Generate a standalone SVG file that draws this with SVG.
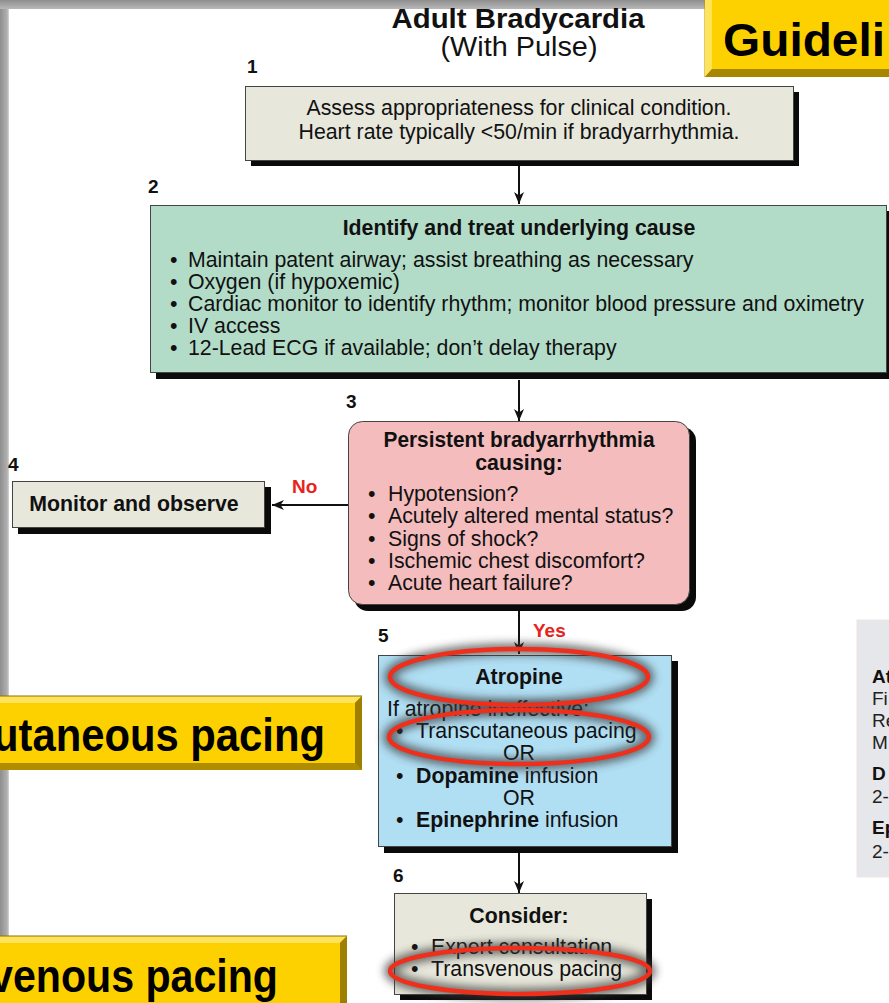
<svg xmlns="http://www.w3.org/2000/svg" width="889" height="1003" viewBox="0 0 889 1003">
<defs>
<style>
text{font-family:"Liberation Sans",Arial,sans-serif;fill:#111}
.t{font-size:21.3px}
.b{font-size:21.3px;font-weight:bold}
.n{font-size:19px;font-weight:bold}
.red{font-size:19px;font-weight:bold;fill:#e8231c}
.box{stroke:#444;stroke-width:1}
.sh{fill:#0a0a0a}
.ban{font-size:46px;font-weight:bold;fill:#000}
.conn{stroke:#111;stroke-width:2;fill:none;marker-end:url(#ah)}
.halo{fill:none;stroke:#3a3a3a;stroke-width:12;opacity:0.7;filter:url(#blur)}
.ring{fill:none;stroke:#ef2f1c;stroke-width:4.5}
.side{font-size:19px;fill:#222}
.sideb{font-size:19px;font-weight:bold;fill:#111}
</style>
<marker id="ah" viewBox="0 0 12 12" refX="12" refY="6" markerWidth="12" markerHeight="12" markerUnits="userSpaceOnUse" orient="auto">
<path d="M0,1 L12,6 L0,11 L3.5,6 Z" fill="#111"/>
</marker>
<filter id="blur" x="-20%" y="-60%" width="140%" height="220%"><feGaussianBlur stdDeviation="4"/></filter>
<clipPath id="panelClip"><rect x="850" y="600" width="39" height="300"/></clipPath>
<linearGradient id="gTop" x1="0" y1="0" x2="0" y2="1"><stop offset="0" stop-color="#8e8e8e"/><stop offset="1" stop-color="#b8b8b8"/></linearGradient>
<linearGradient id="gLeft" x1="0" y1="0" x2="1" y2="0"><stop offset="0" stop-color="#8e8e8e"/><stop offset="0.8" stop-color="#b0b0b0"/><stop offset="1" stop-color="#d8d8d8"/></linearGradient>
</defs>
<rect width="889" height="1003" fill="#ffffff"/>
<g id="frame">
<rect x="0" y="0" width="9" height="1003" fill="url(#gLeft)"/>
<rect x="0" y="0" width="705" height="9" fill="url(#gTop)"/>
</g>
<g id="title">
<text x="518" y="28" text-anchor="middle" style="font-size:27px;font-weight:bold" textLength="253" lengthAdjust="spacingAndGlyphs">Adult Bradycardia</text>
<text x="519" y="56" text-anchor="middle" style="font-size:27px" textLength="157" lengthAdjust="spacingAndGlyphs">(With Pulse)</text>
</g>
<g id="right-panel" clip-path="url(#panelClip)">
<rect x="857" y="620" width="40" height="257" fill="#e5e7ea" stroke="#f1e4e4" stroke-width="1"/>
<text class="sideb" x="872" y="683">At</text>
<text class="side" x="872" y="705">Fi</text>
<text class="side" x="872" y="727">Re</text>
<text class="side" x="872" y="749">M</text>
<text class="sideb" x="872" y="780">D</text>
<text class="side" x="872" y="803">2-</text>
<text class="sideb" x="872" y="834">Ep</text>
<text class="side" x="872" y="858">2-</text>
</g>
<g id="connectors">
<line class="conn" x1="519" y1="166" x2="519" y2="204"/>
<line class="conn" x1="519" y1="380" x2="519" y2="421"/>
<line class="conn" x1="349" y1="505" x2="272" y2="505"/>
<line class="conn" x1="519" y1="611" x2="519" y2="654"/>
<line class="conn" x1="519" y1="852" x2="519" y2="893"/>
<text class="red" x="292" y="493">No</text>
<text class="red" x="533" y="637">Yes</text>
</g>
<g id="node1">
<text class="n" x="247" y="73">1</text>
<rect class="sh" x="251" y="92" width="548" height="74"/>
<rect class="box" x="245.5" y="86.5" width="548" height="74" fill="#e7e7db"/>
<text class="t" x="519" y="115" text-anchor="middle">Assess appropriateness for clinical condition.</text>
<text class="t" x="519" y="139" text-anchor="middle">Heart rate typically &lt;50/min if bradyarrhythmia.</text>
</g>
<g id="node2">
<text class="n" x="148" y="193">2</text>
<rect class="sh" x="156" y="211" width="737" height="168"/>
<rect class="box" x="150.5" y="205.5" width="736" height="167" fill="#b3dcc8"/>
<text class="b" x="519" y="235" text-anchor="middle">Identify and treat underlying cause</text>
<text class="t" y="267"><tspan x="170">•</tspan><tspan x="188">Maintain patent airway; assist breathing as necessary</tspan></text>
<text class="t" y="289"><tspan x="170">•</tspan><tspan x="188">Oxygen (if hypoxemic)</tspan></text>
<text class="t" y="311"><tspan x="170">•</tspan><tspan x="188">Cardiac monitor to identify rhythm; monitor blood pressure and oximetry</tspan></text>
<text class="t" y="333"><tspan x="170">•</tspan><tspan x="188">IV access</tspan></text>
<text class="t" y="355"><tspan x="170">•</tspan><tspan x="188">12-Lead ECG if available; don’t delay therapy</tspan></text>
</g>
<g id="node3">
<text class="n" x="346" y="408">3</text>
<rect class="sh" x="354" y="427" width="342" height="184" rx="14"/>
<rect class="box" x="348.5" y="421.5" width="341" height="183" rx="14" fill="#f4bcbd"/>
<text class="b" x="519" y="447" text-anchor="middle" textLength="271" lengthAdjust="spacingAndGlyphs">Persistent bradyarrhythmia</text>
<text class="b" x="519" y="470" text-anchor="middle">causing:</text>
<text class="t" y="501"><tspan x="368">•</tspan><tspan x="388">Hypotension?</tspan></text>
<text class="t" y="523"><tspan x="368">•</tspan><tspan x="388">Acutely altered mental status?</tspan></text>
<text class="t" y="546"><tspan x="368">•</tspan><tspan x="388">Signs of shock?</tspan></text>
<text class="t" y="568"><tspan x="368">•</tspan><tspan x="388">Ischemic chest discomfort?</tspan></text>
<text class="t" y="590"><tspan x="368">•</tspan><tspan x="388">Acute heart failure?</tspan></text>
</g>
<g id="node4">
<text class="n" x="8" y="471">4</text>
<rect class="sh" x="18" y="487" width="253" height="47"/>
<rect class="box" x="12.5" y="481.5" width="252" height="46" fill="#e7e7db"/>
<text class="b" x="134" y="511" text-anchor="middle">Monitor and observe</text>
</g>
<g id="node5">
<text class="n" x="378" y="642">5</text>
<rect class="sh" x="384" y="661" width="294" height="192"/>
<rect class="box" x="378.5" y="655.5" width="293" height="191" fill="#b0def3"/>
<text class="b" x="519" y="684" text-anchor="middle">Atropine</text>
<text class="t" x="387" y="716">If atropine ineffective:</text>
<text class="t" y="738"><tspan x="396">•</tspan><tspan x="416">Transcutaneous pacing</tspan></text>
<text class="t" x="519" y="760" text-anchor="middle">OR</text>
<text class="t" y="783"><tspan x="396">•</tspan><tspan x="416" font-weight="bold">Dopamine</tspan><tspan> infusion</tspan></text>
<text class="t" x="519" y="805" text-anchor="middle">OR</text>
<text class="t" y="827"><tspan x="396">•</tspan><tspan x="416" font-weight="bold">Epinephrine</tspan><tspan> infusion</tspan></text>
</g>
<g id="node6">
<text class="n" x="393" y="882">6</text>
<rect class="sh" x="400" y="899" width="252" height="101"/>
<rect class="box" x="394.5" y="893.5" width="252" height="101" fill="#e7e7db"/>
<text class="b" x="519" y="923" text-anchor="middle">Consider:</text>
<text class="t" y="954"><tspan x="411">•</tspan><tspan x="431">Expert consultation</tspan></text>
<text class="t" y="976"><tspan x="411">•</tspan><tspan x="431">Transvenous pacing</tspan></text>
</g>
<g id="highlights">
<ellipse class="halo" cx="519" cy="677" rx="129" ry="28"/>
<ellipse class="halo" cx="519" cy="737" rx="130" ry="27"/>
<ellipse class="halo" cx="520" cy="971" rx="130" ry="23"/>
<ellipse class="ring" cx="519" cy="677" rx="129" ry="28"/>
<ellipse class="ring" cx="519" cy="737" rx="130" ry="27"/>
<ellipse class="ring" cx="520" cy="971" rx="130" ry="23"/>
</g>
<g id="banner-top">
<rect x="704.5" y="0" width="185" height="77" fill="#b89400"/>
<polygon points="705,0 712,0 712,69 705,77" fill="#ffe35a"/>
<polygon points="705,77 712,69 889,69 889,77" fill="#a78600"/>
<rect x="712" y="0" width="177" height="69" fill="#fdd000"/>
<text class="ban" x="723" y="56" textLength="162" lengthAdjust="spacingAndGlyphs">Guideli</text>
</g>
<g id="banner-mid">
<rect x="0" y="696" width="362" height="74" fill="#b89400"/>
<polygon points="0,696 362,696 355,703 0,703" fill="#ffe35a"/>
<polygon points="362,696 362,770 355,763 355,703" fill="#9e7f00"/>
<polygon points="0,770 362,770 355,763 0,763" fill="#b08d00"/>
<rect x="0" y="703" width="355" height="60" fill="#fdd000"/>
<line x1="0" y1="696" x2="362" y2="696" stroke="#8a7000" stroke-width="1"/>
<text class="ban" x="-7" y="751" textLength="332" lengthAdjust="spacingAndGlyphs">utaneous pacing</text>
</g>
<g id="banner-bottom">
<rect x="0" y="936" width="347" height="67" fill="#b89400"/>
<polygon points="0,936 347,936 340,943 0,943" fill="#ffe35a"/>
<polygon points="347,936 347,1003 340,1003 340,943" fill="#9e7f00"/>
<rect x="0" y="943" width="340" height="60" fill="#fdd000"/>
<line x1="0" y1="936" x2="347" y2="936" stroke="#8a7000" stroke-width="1"/>
<text class="ban" x="-10" y="992" textLength="288" lengthAdjust="spacingAndGlyphs">venous pacing</text>
</g>
</svg>
